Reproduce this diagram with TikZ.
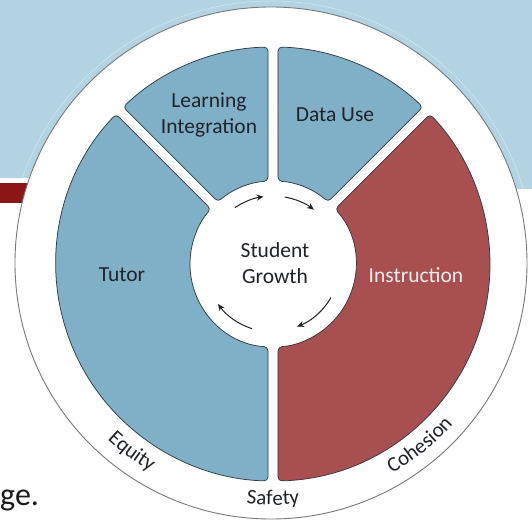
\documentclass[tikz,border=0pt]{standalone}
\usepackage{fontspec}
\setmainfont{Carlito}
\usetikzlibrary{arrows.meta,decorations.text}
\definecolor{bgblue}{RGB}{178,211,226}
\definecolor{segblue}{RGB}{128,176,200}
\definecolor{segred}{RGB}{168,80,80}
\definecolor{barred}{RGB}{140,22,22}
\definecolor{segline}{RGB}{50,60,66}
\definecolor{ringline}{RGB}{120,120,120}
\definecolor{txt}{RGB}{32,36,40}
\definecolor{lighttxt}{RGB}{246,236,236}
\newcommand\ringfont{\fontsize{21}{25}\selectfont}
\begin{document}
\begin{tikzpicture}[x=1pt,y=1pt,
  seg/.style={draw=segline, line width=0.75pt, rounded corners=4pt},
  lbl/.style={font=\fontsize{21.5}{26}\selectfont, text=txt, align=center, inner sep=0pt},
  cyc/.style={draw=txt, line width=1pt, -{Stealth[length=7pt,width=6pt]}},
  ringtext/.style={decorate, decoration={text along path, text align=center, text color=txt}}]
\useasboundingbox (-273,-260) rectangle (259,264);
% slide background
\fill[bgblue] (-273,86) rectangle (259,264);
\fill[bgblue] (167,75) rectangle (259,86);
\fill[barred] (-273,61) rectangle (-100,81);
\begin{scope}
  \clip (-273,86) rectangle (259,264) (167,75) rectangle (259,86);
  \draw[bgblue!55!white, line width=0.5pt] (-2,0) circle (263);
\end{scope}
% outer ring
\filldraw[fill=white, draw=ringline, line width=0.9pt] (-2,1) circle (256);
% segments
\filldraw[seg, fill=segblue] (136.32:217) arc[start angle=136.32, end angle=268.68, radius=217]
  -- (266.55:83) arc[start angle=266.55, end angle=138.45, radius=83] -- cycle;
\filldraw[seg, fill=segblue] (91.32:217) arc[start angle=91.32, end angle=133.68, radius=217]
  -- (131.55:83) arc[start angle=131.55, end angle=93.45, radius=83] -- cycle;
\filldraw[seg, fill=segblue] (46.32:217) arc[start angle=46.32, end angle=88.68, radius=217]
  -- (86.55:83) arc[start angle=86.55, end angle=48.45, radius=83] -- cycle;
\filldraw[seg, fill=segred] (-88.68:217) arc[start angle=-88.68, end angle=43.68, radius=217]
  -- (41.55:83) arc[start angle=41.55, end angle=-86.55, radius=83] -- cycle;
% labels
\node[lbl] (li) at (-64,149) {Learning\\Integration};
\node[lbl] (du) at (62,149) {Data Use};
\node[lbl] (tutor) at (-151,-11) {Tutor};
\node[lbl] (sg) at (2,1) {Student\\Growth};
\node[lbl, text=lighttxt] (instr) at (143,-11) {Instruction};
% cycle arrows
\draw[cyc] (124:68) arc[start angle=124, end angle=98, radius=68];
\draw[cyc] (80:68) arc[start angle=80, end angle=53, radius=68];
\draw[cyc] (-30:67) arc[start angle=-30, end angle=-69, radius=67];
\draw[cyc] (-108:68) arc[start angle=-108, end angle=-144, radius=68];
% ring texts
\path[ringtext, decoration={text={|\ringfont|Equity}}] (203:241) arc[start angle=203, end angle=263, radius=241];
\path[ringtext, decoration={text={|\ringfont|Safety}}] (240:241) arc[start angle=240, end angle=300, radius=241];
\path[ringtext, decoration={text={|\ringfont|Cohesion}}] (276:241) arc[start angle=276, end angle=342, radius=241];
% slide text fragment
\node[font=\fontsize{32}{38}\selectfont, anchor=base west, inner sep=0pt, text=black!90] (ge) at (-273,-241) {ge.};
\end{tikzpicture}
\end{document}
